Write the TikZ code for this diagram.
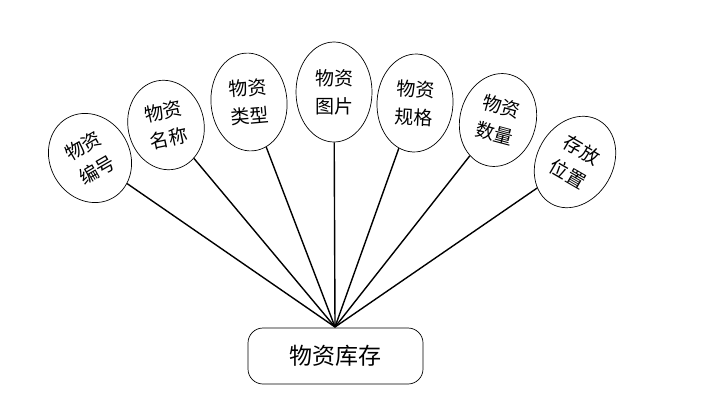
\documentclass[tikz,border=0pt]{standalone}
\usepackage{fontspec}
\newfontfamily\cjk{Noto Sans CJK SC}
\usetikzlibrary{shapes.geometric}
\begin{document}
\begin{tikzpicture}[x=1pt,y=-1pt,
  attr/.style={draw,ellipse,inner sep=0pt,line width=0.7pt,
    font=\cjk\fontsize{19}{28}\selectfont,align=center},
  hubbox/.style={draw,rounded corners=15pt,line width=0.7pt,inner sep=0pt,
    minimum width=175pt,minimum height=56pt,font=\cjk\fontsize{23}{28}\selectfont},
  link/.style={line width=1.4pt}]
\useasboundingbox (0,0) rectangle (717,420);
\node[hubbox] (main) at (335.5,356) {物资库存};
\coordinate (hub) at (335,327);
\node[attr,minimum width=80pt,minimum height=92pt,rotate=30] (e1) at (90,158) {物资\\编号};
\node[attr,minimum width=76pt,minimum height=90pt,rotate=12] (e2) at (166,125) {物资\\名称};
\node[attr,minimum width=76pt,minimum height=98pt,rotate=5] (e3) at (249,102) {物资\\类型};
\node[attr,minimum width=76pt,minimum height=100pt] (e4) at (334,92) {物资\\图片};
\node[attr,minimum width=76pt,minimum height=98pt,rotate=-3] (e5) at (415,103) {物资\\规格};
\node[attr,minimum width=76pt,minimum height=94pt,rotate=-15] (e6) at (498,120) {物资\\数量};
\node[attr,minimum width=76pt,minimum height=96pt,rotate=-30] (e7) at (575,162) {存放\\位置};
\foreach \e in {e1,e2,e3,e4,e5,e6,e7}
  \draw[link] (hub) -- (\e);
\end{tikzpicture}
\end{document}
